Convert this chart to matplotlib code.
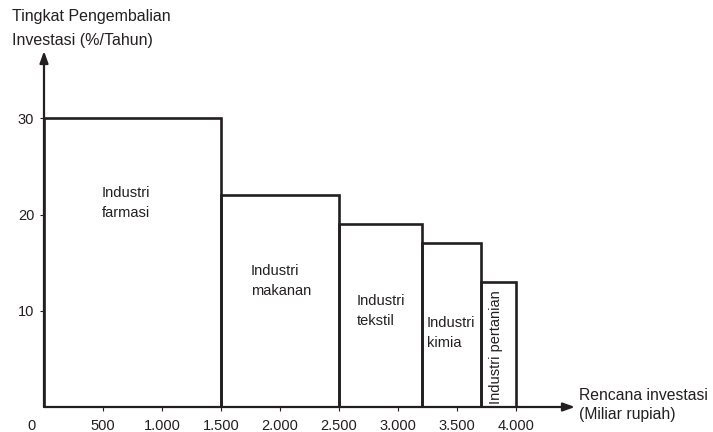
import matplotlib.pyplot as plt

plt.rcParams['font.family'] = ['Liberation Sans', 'DejaVu Sans']

# data
industri = ["Industri\nfarmasi", "Industri\nmakanan", "Industri\ntekstil", "Industri\nkimia", "Industri pertanian"]
mulai = [0, 1500, 2500, 3200, 3700]
rencana = [1500, 1000, 700, 500, 300]
pengembalian = [30, 22, 19, 17, 13]
xticks = [500, 1000, 1500, 2000, 2500, 3000, 3500, 4000]
xlabels = ["500", "1.000", "1.500", "2.000", "2.500", "3.000", "3.500", "4.000"]
yticks = [10, 20, 30]

# label anchor positions (data coords)
label_pos = [(695, 21.2, 'center', 0), (1754, 13.1, 'left', 0), (2653, 10.0, 'left', 0),
             (3246, 7.7, 'left', 0), (3831, 6.2, 'center', 90)]

ink = '#231f20'
W, H = 713, 432
fig = plt.figure(figsize=(W / 100, H / 100), dpi=100)
left, right, bottom, top = 44, 575, 407, 51
ax = fig.add_axes([left / W, 1 - bottom / H, (right - left) / W, (bottom - top) / H])
ax.set_xlim(0, 4500)
ax.set_ylim(0, 37)

ax.bar(mulai, pengembalian, width=rencana, align='edge', fill=False,
       edgecolor=ink, linewidth=1.9, zorder=2)

for (x, y, ha, rot), lab in zip(label_pos, industri):
    ax.text(x, y, lab, ha=ha, va='center', rotation=rot, fontsize=10.5,
            color=ink, linespacing=1.5)

for s in ax.spines.values():
    s.set_visible(False)
ax.annotate('', xy=(1, 0), xytext=(0, 0), xycoords='axes fraction',
            arrowprops=dict(arrowstyle='-|>,head_length=0.7,head_width=0.25',
                            color=ink, lw=1.6, shrinkA=0, shrinkB=0))
ax.annotate('', xy=(0, 1), xytext=(0, 0), xycoords='axes fraction',
            arrowprops=dict(arrowstyle='-|>,head_length=0.7,head_width=0.25',
                            color=ink, lw=1.6, shrinkA=0, shrinkB=0))

ax.set_xticks(xticks)
ax.set_xticklabels(xlabels)
ax.set_yticks(yticks)
ax.tick_params(axis='both', colors=ink, labelcolor=ink, labelsize=10.5, length=3, width=0.8)
ax.tick_params(axis='x', pad=6)
ax.tick_params(axis='y', pad=4)
ax.text(-110, -1.2, "0", ha='center', va='top', fontsize=10.5, color=ink, clip_on=False)

fig.text(12 / W, 1 - 17 / H, "Tingkat Pengembalian", ha='left', va='center', fontsize=11.5, color=ink)
fig.text(12 / W, 1 - 41 / H, "Investasi (%/Tahun)", ha='left', va='center', fontsize=11.5, color=ink)
fig.text(579 / W, 1 - 396 / H, "Rencana investasi", ha='left', va='center', fontsize=11.3, color=ink)
fig.text(579 / W, 1 - 415 / H, "(Miliar rupiah)", ha='left', va='center', fontsize=11.3, color=ink)

fig.savefig('out.png', dpi=100)
